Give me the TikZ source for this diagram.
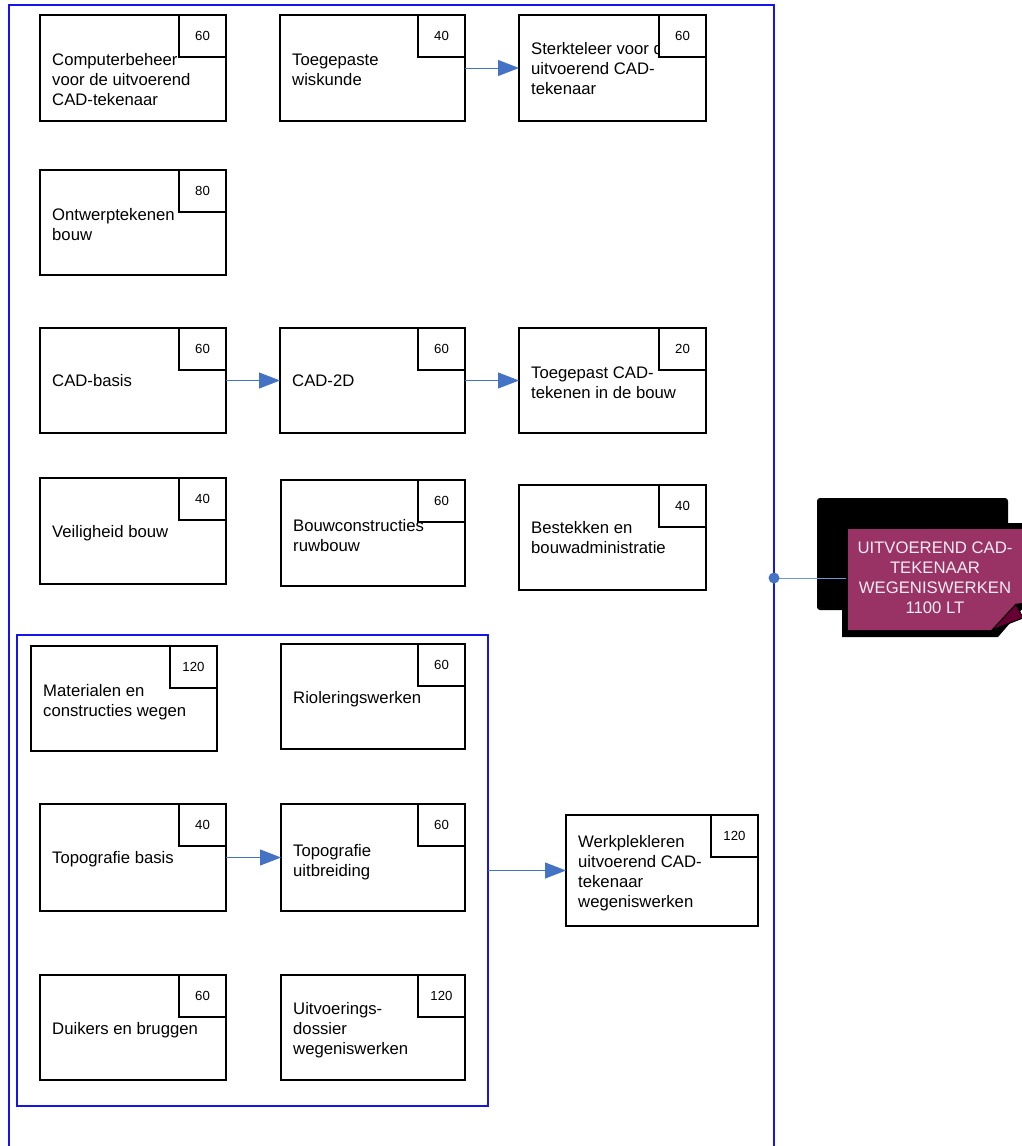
\documentclass[tikz,border=0pt]{standalone}
\usepackage{fontspec}
\setmainfont{Liberation Sans}
\usetikzlibrary{arrows.meta}
\definecolor{frameblue}{RGB}{20,20,235}
\definecolor{arrowblue}{RGB}{68,114,196}
\definecolor{linkblue}{RGB}{110,150,210}
\definecolor{cardmag}{RGB}{153,51,102}
\definecolor{folddark}{RGB}{102,0,51}
\definecolor{cardtext}{RGB}{245,235,242}
\tikzset{
  cbox/.style={draw=black, line width=2.2pt, fill=white, inner sep=0pt, outer sep=0pt},
  ctext/.style={anchor=west, align=left, inner sep=0pt, font=\fontsize{16.7}{20}\selectfont},
  nbox/.style={draw=black, line width=2.2pt, fill=white, inner sep=0pt, outer sep=0pt,
     minimum width=47, minimum height=42, anchor=north east, font=\fontsize{13.2}{15}\selectfont},
  frame/.style={draw=frameblue, line width=2pt, inner sep=0pt, outer sep=0pt},
  conn/.style={draw=arrowblue, line width=1pt, -{Triangle[length=21pt,width=16pt]}},
}
\newcommand\course[8]{%
  \node[cbox, minimum width={#4-#2}, minimum height={#5-#3}] (#1) at ({(#2+#4)/2},{(#3+#5)/2}) {};
  \node[ctext] (#1t) at (#2+12,#7) {#8};
  \node[nbox] (#1n) at (#1.north east) {#6};
}
\begin{document}
\begin{tikzpicture}[x=1pt,y=-1pt]
\clip (0,0) rectangle (1022,1146);
\fill[white] (0,0) rectangle (1022,1146);
% frames
\node[frame, minimum width=765, minimum height=1160] (outer) at (391.5,585) {};
\node[frame, minimum width=471, minimum height=471] (inner) at (252.5,870.5) {};
% courses
\course{comp}{40}{15}{226}{121}{60}{80}{Computerbeheer\\voor de uitvoerend\\CAD-tekenaar}
\course{wisk}{280}{15}{465}{121}{40}{70}{Toegepaste\\wiskunde}
\course{sterk}{519}{15}{706}{121}{60}{69}{Sterkteleer voor de\\uitvoerend CAD-\\tekenaar}
\course{ontw}{40}{170}{226}{275}{80}{225}{Ontwerptekenen\\bouw}
\course{cadb}{40}{328}{226}{433}{60}{381}{CAD-basis}
\course{cadtd}{280}{328}{465}{433}{60}{381}{CAD-2D}
\course{toeg}{519}{328}{706}{433}{20}{383}{Toegepast CAD-\\tekenen in de bouw}
\course{veil}{40}{478}{226}{584}{40}{533}{Veiligheid bouw}
\course{bouw}{281}{480}{465}{586}{60}{536}{Bouwconstructies\\ruwbouw}
\course{best}{519}{485}{706}{590}{40}{538}{Bestekken en\\bouwadministratie}
\course{mat}{31}{646}{217}{751}{120}{702}{Materialen en\\constructies wegen}
\course{riol}{281}{644}{465}{749}{60}{699}{Rioleringswerken}
\course{topb}{40}{804}{226}{911}{40}{859}{Topografie basis}
\course{topu}{281}{804}{465}{911}{60}{862}{Topografie\\uitbreiding}
\course{werk}{566}{815}{758}{926}{120}{873}{Werkplekleren\\uitvoerend CAD-\\tekenaar\\wegeniswerken}
\course{duik}{40}{975}{226}{1080}{60}{1030}{Duikers en bruggen}
\course{uitv}{281}{975}{465}{1080}{120}{1030}{Uitvoerings-\\dossier\\wegeniswerken}
% arrows
\draw[conn] (wisk) -- (sterk);
\draw[conn] (cadb) -- (cadtd);
\draw[conn] (cadtd) -- (toeg);
\draw[conn] (topb) -- (topu);
\draw[conn] (inner) -- (werk);
% card
\fill[black, rounded corners=3pt] (817,498) rectangle (1008,610);
\fill[black] (842,523) -- (1030,523) -- (1030,600) -- (998,637) -- (842,637) -- cycle;
\coordinate (dot) at (outer.east |- 0,578);
\draw[draw=linkblue, line width=1pt] (dot) -- (846,578);
\fill[arrowblue] (dot) circle (5.5);
\fill[cardmag] (848,529) -- (1030,529) -- (1030,601) -- (1016,604) -- (992,630) -- (848,630) -- cycle;
\filldraw[fill=folddark, draw=black, line width=1pt] (992,630) -- (1016,604) -- (1023,618) -- cycle;
\node[inner sep=0pt, align=center, text=cardtext, font=\fontsize{16.7}{20}\selectfont] (card) at (935,578)
  {UITVOEREND CAD-\\TEKENAAR\\WEGENISWERKEN\\1100 LT};
\end{tikzpicture}
\end{document}
